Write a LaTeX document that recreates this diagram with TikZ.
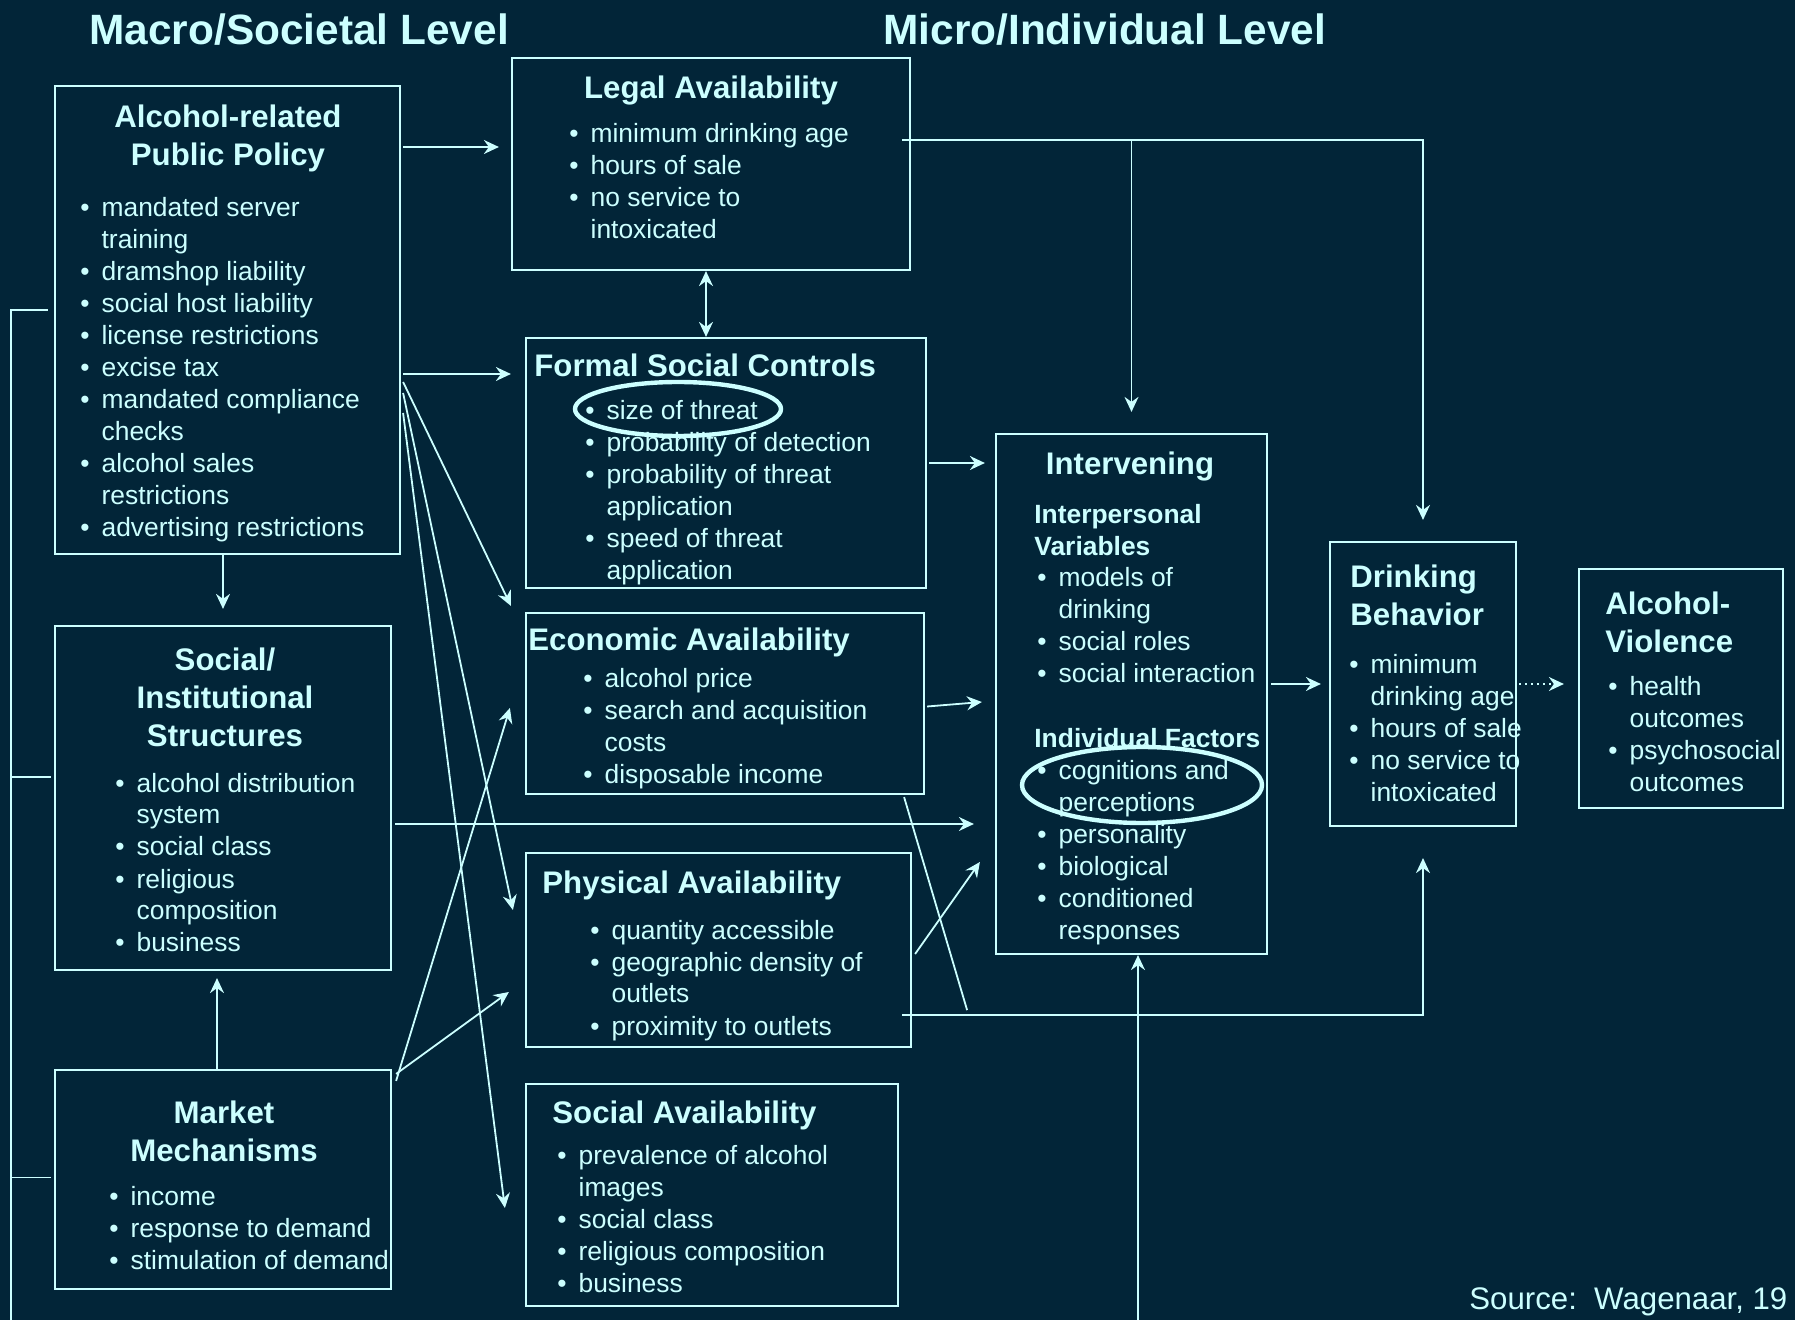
\documentclass[tikz,border=0pt]{standalone}
\usepackage{fontspec}
\setmainfont{Liberation Sans}
\usetikzlibrary{arrows.meta,fit}

\definecolor{slidebg}{HTML}{022538}
\definecolor{slideline}{HTML}{CCFFFF}

\newcommand{\levelfont}{\fontsize{21.2}{25}\selectfont\bfseries}
\newcommand{\headfont}{\fontsize{15.6}{19}\selectfont\bfseries}
\newcommand{\bodyfont}{\fontsize{13.2}{16}\selectfont}
\newcommand{\srcfont}{\fontsize{15.6}{19}\selectfont}
\newcommand{\ctitle}[1]{\begin{tabular}[t]{@{}c@{}}#1\end{tabular}}
\newcommand{\ltitle}[1]{\begin{tabular}[t]{@{}l@{}}#1\end{tabular}}
\newcommand{\blist}[1]{\begin{tabular}[t]{@{}l@{\hspace{6pt}}l@{}}#1\end{tabular}}

\begin{document}
\begin{tikzpicture}[x=0.5pt, y=-0.5pt,
        boxnode/.style={rectangle, draw=slideline, line width=1.1pt, inner sep=0pt},
        levelnode/.style={text=slideline, font=\levelfont, inner sep=0pt, anchor=base west},
        headnode/.style={text=slideline, font=\headfont, inner sep=0pt},
        subnode/.style={text=slideline, font=\bodyfont\bfseries, inner sep=0pt, anchor=base west},
        listnode/.style={text=slideline, font=\bodyfont, inner sep=0pt, anchor=base west},
        srcnode/.style={text=slideline, font=\srcfont, inner sep=0pt, anchor=base west},
        conn/.style={draw=slideline, line width=0.9pt},
        flow/.style={conn, ->},
        >={Stealth[length=7.5pt, width=7pt, inset=2.5pt]},
        ring/.style={draw=slideline, line width=2.2pt}]

        \useasboundingbox (0,0) rectangle (1795,1320);
        \fill[slidebg] (0,0) rectangle (1795,1320);

        \node[levelnode] (macro) at (89,45) {Macro/Societal Level};
        \node[levelnode] (micro) at (883,45) {Micro/Individual Level};

        \node[boxnode, fit={(55,86) (400,554)}] (app) {};
        \node[boxnode, fit={(512,58) (910,270)}] (legal) {};
        \node[boxnode, fit={(526,338) (926,588)}] (formal) {};
        \node[boxnode, fit={(526,613) (924,794)}] (econ) {};
        \node[boxnode, fit={(526,853) (911,1047)}] (phys) {};
        \node[boxnode, fit={(526,1084) (898,1306)}] (socav) {};
        \node[boxnode, fit={(55,626) (391,970)}] (sis) {};
        \node[boxnode, fit={(55,1070) (391,1289)}] (market) {};
        \node[boxnode, fit={(996,434) (1267,954)}] (interv) {};
        \node[boxnode, fit={(1330,542) (1516,826)}] (drink) {};
        \node[boxnode, fit={(1579,569) (1783,808)}] (viol) {};

        \node[headnode, anchor=base] (apphead) at (228,128) {\ctitle{Alcohol-related\\Public Policy}};
        \node[listnode] (applist) at (80,217) {\blist{
                \textbullet & mandated server\\
                & training\\
                \textbullet & dramshop liability\\
                \textbullet & social host liability\\
                \textbullet & license restrictions\\
                \textbullet & excise tax\\
                \textbullet & mandated compliance\\
                & checks\\
                \textbullet & alcohol sales\\
                & restrictions\\
                \textbullet & advertising restrictions}};

        \node[headnode, anchor=base] (legalhead) at (711,99) {Legal Availability};
        \node[listnode] (legallist) at (569,143) {\blist{
                \textbullet & minimum drinking age\\
                \textbullet & hours of sale\\
                \textbullet & no service to\\
                & intoxicated}};

        \node[headnode, anchor=base west] (formalhead) at (534,377) {Formal Social Controls};
        \node[listnode] (formallist) at (585,420) {\blist{
                \textbullet & size of threat\\
                \textbullet & probability of detection\\
                \textbullet & probability of threat\\
                & application\\
                \textbullet & speed of threat\\
                & application}};

        \node[headnode, anchor=base west] (econhead) at (528,651) {Economic Availability};
        \node[listnode] (econlist) at (583,688) {\blist{
                \textbullet & alcohol price\\
                \textbullet & search and acquisition\\
                & costs\\
                \textbullet & disposable income}};

        \node[headnode, anchor=base west] (physhead) at (542,893) {Physical Availability};
        \node[listnode] (physlist) at (590,939) {\blist{
                \textbullet & quantity accessible\\
                \textbullet & geographic density of\\
                & outlets\\
                \textbullet & proximity to outlets}};

        \node[headnode, anchor=base west] (socavhead) at (552,1123) {Social Availability};
        \node[listnode] (socavlist) at (557,1164) {\blist{
                \textbullet & prevalence of alcohol\\
                & images\\
                \textbullet & social class\\
                \textbullet & religious composition\\
                \textbullet & business}};

        \node[headnode, anchor=base] (sishead) at (225,671) {\ctitle{Social/\\Institutional\\Structures}};
        \node[listnode] (sislist) at (115,792) {\blist{
                \textbullet & alcohol distribution\\
                & system\\
                \textbullet & social class\\
                \textbullet & religious\\
                & composition\\
                \textbullet & business}};

        \node[headnode, anchor=base] (markethead) at (224,1123) {\ctitle{Market\\Mechanisms}};
        \node[listnode] (marketlist) at (109,1205) {\blist{
                \textbullet & income\\
                \textbullet & response to demand\\
                \textbullet & stimulation of demand}};

        \node[headnode, anchor=base] (intervhead) at (1130,475) {Intervening};
        \node[subnode] (intersub) at (1034,524) {\ltitle{Interpersonal\\Variables}};
        \node[listnode] (interlist) at (1037,587) {\blist{
                \textbullet & models of\\
                & drinking\\
                \textbullet & social roles\\
                \textbullet & social interaction}};
        \node[subnode] (indivsub) at (1034,748) {Individual Factors};
        \node[listnode] (indivlist) at (1037,780) {\blist{
                \textbullet & cognitions and\\
                & perceptions\\
                \textbullet & personality\\
                \textbullet & biological\\
                \textbullet & conditioned\\
                & responses}};

        \node[headnode, anchor=base west] (drinkhead) at (1350,588) {\ltitle{Drinking\\Behavior}};
        \node[listnode] (drinklist) at (1349,674) {\blist{
                \textbullet & minimum\\
                & drinking age\\
                \textbullet & hours of sale\\
                \textbullet & no service to\\
                & intoxicated}};

        \node[headnode, anchor=base west] (violhead) at (1605,615) {\ltitle{Alcohol-\\Violence}};
        \node[listnode] (viollist) at (1608,696) {\blist{
                \textbullet & health\\
                & outcomes\\
                \textbullet & psychosocial\\
                & outcomes}};

        \node[srcnode] (source) at (1469,1309) {Source:~~Wagenaar, 19};

        \draw[ring] (678,409) ellipse [x radius=103, y radius=27];
        \draw[ring] (1142,785) ellipse [x radius=120, y radius=38];

        \coordinate (railtop) at ([shift={(-6,-10)}]app.west);
        \coordinate (railend) at (11,1320);
        \coordinate (sistick) at ([shift={(-3,-21)}]sis.west);
        \coordinate (mktick) at ([shift={(-3,-2)}]market.west);
        \draw[conn] (railtop) -| (railend);
        \draw[conn] (sistick) -- (sistick -| railend);
        \draw[conn] (mktick) -- (mktick -| railend);

        \coordinate (applegal) at ([shift={(2,-173)}]app.east);
        \coordinate (appformal) at ([shift={(2,54)}]app.east);
        \draw[flow, shorten >=6pt] (applegal) -- (applegal -| legal.west);
        \draw[flow, shorten >=7pt] (appformal) -- (appformal -| formal.west);
        \coordinate (lfx) at ([xshift=-2.5pt]legal.south);
        \draw[conn, <->] (lfx) -- (lfx |- formal.north);
        \draw[flow, shorten >=8pt] (app.south -| sis.north) -- (sis.north);
        \draw[flow, shorten >=3.5pt] ([xshift=-3pt]market.north) -- ([xshift=-3pt]sis.south);

        \draw[flow] ([shift={(2,62)}]app.east) -- ([shift={(-14,-6)}]econ.north west);
        \draw[flow] ([shift={(2,73)}]app.east) -- ([shift={(-12,-40)}]phys.west);
        \draw[flow] ([shift={(2,93)}]app.east) -- ([shift={(-20,13)}]socav.west);
        \draw[flow] ([shift={(4,12)}]market.north east) -- ([shift={(-15,4.5)}]econ.west);
        \draw[flow] ([shift={(4,5)}]market.north east) -- ([shift={(-16,42)}]phys.west);

        \coordinate (sisout) at ([shift={(3,26)}]sis.east);
        \draw[flow, shorten >=10.5pt] (sisout) -- (sisout -| interv.west);
        \draw[flow, shorten <=1pt, shorten >=5pt] (formal.east) -- (formal.east -| interv.west);
        \draw[flow] ([shift={(2,3)}]econ.east) -- ([shift={(-13,8)}]interv.west);
        \draw[flow] ([shift={(3,4)}]phys.east) -- ([shift={(-15,168)}]interv.west);

        \coordinate (physout) at ([shift={(-10,-33)}]phys.south east);
        \draw[conn] ([shift={(-21,2)}]econ.south east) -- ([shift={(65,-5)}]physout);
        \draw[flow, shorten >=15.5pt] (physout) -| (drink.south);
        \coordinate (bottomin) at (1138,1320);
        \draw[flow] (bottomin) -- (bottomin |- interv.south);

        \coordinate (legalout) at ([shift={(-9,-24)}]legal.east);
        \draw[flow, shorten >=10.5pt] (legalout) -| (drink.north);
        \draw[flow, shorten >=10.5pt] (legalout -| interv.north) -- (interv.north);
        \draw[flow, shorten <=1.5pt, shorten >=4pt] (drink.west -| interv.east) -- (drink.west);
        \draw[flow, dash pattern=on 1pt off 2pt, shorten <=1pt, shorten >=7pt] (drink.east) -- (drink.east -| viol.west);

\end{tikzpicture}
\end{document}
